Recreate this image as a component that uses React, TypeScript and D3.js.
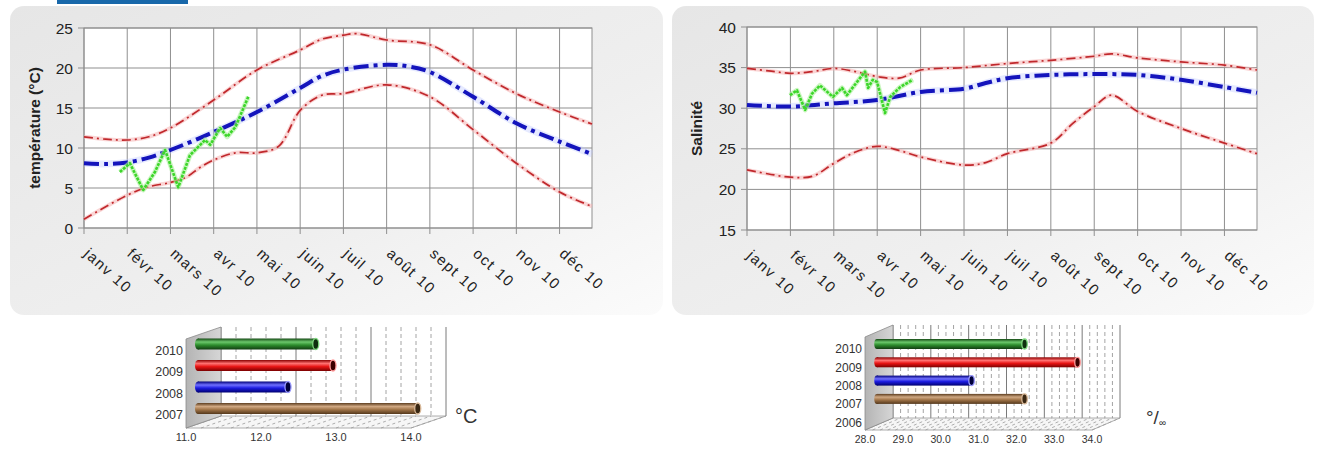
import React from 'react';
import * as d3 from 'd3';

// ---------- DATA ----------
const monthLabels = ['janv 10', 'févr 10', 'mars 10', 'avr 10', 'mai 10', 'juin 10', 'juil 10', 'août 10', 'sept 10', 'oct 10', 'nov 10', 'déc 10'];

// Temperature (month index, °C)
const tempMean: [number, number][] = [[0, 8.1], [0.5, 8.0], [1, 8.2], [1.5, 8.8], [2, 9.75], [3, 12.0], [4, 14.5], [5, 17.5], [5.5, 19.0], [6, 19.8], [7, 20.4], [7.5, 20.2], [8, 19.5], [9, 16.4], [10, 13.1], [11, 10.8], [11.75, 9.25]];
const tempUpper: [number, number][] = [[0, 11.4], [0.5, 11.1], [1, 11.0], [1.5, 11.4], [2, 12.5], [3, 16.0], [4, 19.75], [5, 22.25], [5.5, 23.6], [6, 24.1], [6.3, 24.3], [7, 23.5], [8, 22.9], [9, 19.75], [10, 16.8], [11, 14.5], [11.75, 13.0]];
const tempLower: [number, number][] = [[0, 1.1], [1, 4.1], [1.46, 5.1], [2, 5.7], [2.38, 6.4], [2.69, 7.6], [3, 8.5], [3.5, 9.4], [4, 9.4], [4.5, 10.2], [5, 14.7], [5.5, 16.6], [6, 16.8], [7, 17.9], [8, 16.4], [9, 12.3], [10, 8.1], [11, 4.5], [11.75, 2.7]];
const temp2010: [number, number][] = [[0.83, 7.0], [1.06, 8.1], [1.37, 4.75], [1.64, 7.0], [1.875, 9.75], [2.18, 5.1], [2.45, 9.1], [2.8, 11.0], [2.92, 10.4], [3.15, 12.5], [3.31, 11.4], [3.5, 12.6], [3.8, 16.4]];
const tempTicks = [0, 5, 10, 15, 20, 25];

// Salinity (month index, psu)
const salMean: [number, number][] = [[0, 30.4], [1, 30.2], [2, 30.6], [3, 31.0], [4, 32.0], [5, 32.4], [5.5, 33.1], [6, 33.7], [7, 34.1], [8, 34.2], [9, 34.1], [10, 33.5], [11, 32.6], [11.75, 31.9]];
const salUpper: [number, number][] = [[0, 34.9], [0.5, 34.6], [1, 34.3], [1.5, 34.5], [2, 34.9], [2.5, 34.5], [3, 33.9], [3.5, 33.7], [4, 34.7], [5, 35.0], [6, 35.5], [7, 35.9], [8, 36.4], [8.4, 36.7], [9, 36.2], [10, 35.7], [11, 35.3], [11.75, 34.7]];
const salLower: [number, number][] = [[0, 22.4], [0.5, 21.9], [1, 21.5], [1.5, 21.6], [2, 23.2], [2.5, 24.6], [3, 25.3], [3.5, 24.8], [4, 24.0], [5, 23.0], [5.5, 23.3], [6, 24.4], [7, 25.7], [7.5, 28.1], [8, 30.2], [8.4, 31.6], [9, 29.6], [10, 27.5], [11, 25.7], [11.75, 24.4]];
const sal2010: [number, number][] = [[0.99, 31.6], [1.15, 32.2], [1.34, 29.8], [1.5, 31.8], [1.68, 32.8], [1.98, 31.4], [2.19, 32.5], [2.3, 31.6], [2.53, 33.2], [2.72, 34.5], [2.79, 32.5], [2.9, 33.5], [3.0, 33.2], [3.18, 29.4], [3.3, 31.4], [3.53, 32.6], [3.69, 33.1], [3.82, 33.5]];
const salTicks = [15, 20, 25, 30, 35, 40];

// Annual means (bar charts)
const tempYears = ['2010', '2009', '2008', '2007'];
const tempYearMeans = [12.57, 12.8, 12.2, 13.93];
const tempBarTicks = [11, 12, 13, 14];
const salYears = ['2010', '2009', '2008', '2007', '2006'];
const salYearMeans: (number | null)[] = [31.9, 33.3, 30.5, 31.9, null];
const salBarTicks = [28, 29, 30, 31, 32, 33, 34];
const barColorNames = ['green', 'red', 'blue', 'brown', 'brown'];

const FONT = 'Liberation Sans, Arial, Helvetica, sans-serif';

const cylGrad: Record<string, string[]> = {
  green: ['#154a15', '#6cc86c', '#2c8c2c', '#123c12'],
  red: ['#8a0000', '#ff7070', '#e81414', '#7a0000'],
  blue: ['#00007a', '#7070ff', '#1c1ce0', '#000070'],
  brown: ['#5e3e20', '#d0a882', '#a07448', '#54381c'],
};
const capFill: Record<string, string> = { green: '#0e2e0e', red: '#3a0000', blue: '#00003a', brown: '#3a2814' };
const capStroke: Record<string, string> = { green: '#7fd87f', red: '#ff9a9a', blue: '#9a9aff', brown: '#d8b898' };

// ---------- LINE CHART ----------
type LCProps = {
  left: number; right: number; top: number; bottom: number;
  yDomain: [number, number]; yTicks: number[]; title: string; titleX: number;
  mean: [number, number][]; upper: [number, number][]; lower: [number, number][]; obs: [number, number][];
};

function LineChart(p: LCProps) {
  const x = d3.scaleLinear().domain([0, 11.75]).range([p.left, p.right]);
  const y = d3.scaleLinear().domain(p.yDomain).range([p.bottom, p.top]);
  const smooth = d3.line<[number, number]>().x(d => x(d[0])).y(d => y(d[1])).curve(d3.curveCatmullRom.alpha(0.5));
  const straight = d3.line<[number, number]>().x(d => x(d[0])).y(d => y(d[1])).curve(d3.curveLinear);
  const midY = (p.top + p.bottom) / 2;
  return (
    <g fontFamily={FONT}>
      <rect x={p.left} y={p.top} width={p.right - p.left} height={p.bottom - p.top} fill="#fff" />
      {p.yTicks.map(t => (
        <g key={'y' + t}>
          <line x1={p.left - 6} x2={p.right} y1={y(t)} y2={y(t)} stroke="#8f8f8f" strokeWidth={1} />
          <text x={p.left - 11} y={y(t)} dy="0.36em" textAnchor="end" fontSize={15.5} fill="#222">{t}</text>
        </g>
      ))}
      {monthLabels.map((m, i) => (
        <g key={'x' + i}>
          <line x1={x(i)} x2={x(i)} y1={p.top} y2={p.bottom + 6} stroke="#8f8f8f" strokeWidth={1} />
          <text transform={`translate(${x(i) - 1},${p.bottom + 27}) rotate(42)`} fontSize={15} letterSpacing={1.4} fill="#222">{m}</text>
        </g>
      ))}
      <rect x={p.left} y={p.top} width={p.right - p.left} height={p.bottom - p.top} fill="none" stroke="#8f8f8f" strokeWidth={1} />
      <text transform={`translate(${p.titleX},${midY}) rotate(-90)`} textAnchor="middle" fontSize={15.5} fontWeight="bold" fill="#222">{p.title}</text>
      {[p.upper, p.lower].map((s, i) => (
        <g key={'r' + i}>
          <path d={smooth(s) || ''} fill="none" stroke="#f6b3b3" strokeOpacity={0.55} strokeWidth={4} />
          <path d={smooth(s) || ''} fill="none" stroke="#c0282c" strokeWidth={1.7} strokeDasharray="9 4 2 4" />
        </g>
      ))}
      <path d={smooth(p.mean) || ''} fill="none" stroke="#b8c4ff" strokeOpacity={0.35} strokeWidth={7} />
      <path d={smooth(p.mean) || ''} fill="none" stroke="#1414bc" strokeWidth={4} strokeDasharray="15 5 4 5" />
      <path d={straight(p.obs) || ''} fill="none" stroke="#a8f098" strokeOpacity={0.6} strokeWidth={5} strokeLinejoin="round" />
      <path d={straight(p.obs) || ''} fill="none" stroke="#3cd62a" strokeWidth={2.6} strokeDasharray="3 1.2" strokeLinejoin="round" />
    </g>
  );
}

// ---------- 3D BAR CHART ----------
type BCProps = {
  id: string; domain: [number, number]; frontRange: [number, number]; ticks: number[];
  depthX: number; depthY: number; floorY: number; backTop: number;
  years: string[]; values: (number | null)[]; labelY0: number; labelStep: number;
  barOffX: number; barOffY: number; barR: number; labelFont: number; tickFont: number;
};

function Bar3D(p: BCProps) {
  const xF = d3.scaleLinear().domain(p.domain).range(p.frontRange);
  const xB = (v: number) => xF(v) + p.depthX;
  const xBar = (v: number) => xF(v) + p.barOffX;
  const [d0, d1] = p.domain;
  const minor = d3.range(d0, d1 + 1e-6, 0.2);
  const backBottom = p.floorY - p.depthY;
  const topFront = p.backTop + p.depthY;
  return (
    <g fontFamily={FONT}>
      <defs>
        {Object.keys(cylGrad).map(c => (
          <linearGradient key={c} id={`${p.id}-${c}`} x1="0" y1="0" x2="0" y2="1">
            <stop offset="0" stopColor={cylGrad[c][0]} />
            <stop offset="0.32" stopColor={cylGrad[c][1]} />
            <stop offset="0.6" stopColor={cylGrad[c][2]} />
            <stop offset="1" stopColor={cylGrad[c][3]} />
          </linearGradient>
        ))}
        <linearGradient id={`${p.id}-wall`} x1="0" y1="0" x2="1" y2="0">
          <stop offset="0" stopColor="#b4b4b4" />
          <stop offset="1" stopColor="#d6d6d6" />
        </linearGradient>
      </defs>
      <rect x={xB(d0)} y={p.backTop} width={xB(d1) - xB(d0)} height={backBottom - p.backTop} fill="#fff" />
      {minor.map((v, i) => {
        const isInt = Math.abs(v - Math.round(v)) < 1e-6;
        return (
          <line key={'bw' + i} x1={xB(v)} x2={xB(v)} y1={p.backTop} y2={backBottom}
            stroke={isInt ? '#7a7a7a' : '#9a9a9a'} strokeWidth={isInt ? 1 : 0.9}
            strokeDasharray={isInt ? undefined : '4 3'} />
        );
      })}
      <polygon points={`${xF(d0)},${p.floorY} ${xF(d1)},${p.floorY} ${xB(d1)},${backBottom} ${xB(d0)},${backBottom}`} fill="#f6f6f6" stroke="#9a9a9a" strokeWidth={0.8} />
      {minor.map((v, i) => (
        <line key={'fl' + i} x1={xF(v)} x2={xB(v)} y1={p.floorY} y2={backBottom} stroke="#9a9a9a" strokeWidth={0.8} strokeDasharray="3 3" />
      ))}
      <polygon points={`${xF(d0)},${topFront} ${xB(d0)},${p.backTop} ${xB(d0)},${backBottom} ${xF(d0)},${p.floorY}`} fill={`url(#${p.id}-wall)`} stroke="#8a8a8a" strokeWidth={0.8} />
      {p.values.map((v, i) => {
        if (v == null) return null;
        const c = barColorNames[i];
        const cy = p.labelY0 + i * p.labelStep + p.barOffY;
        const xs = xBar(d0);
        const xe = xBar(v);
        const r = p.barR;
        return (
          <g key={'b' + i}>
            <ellipse cx={xs} cy={cy} rx={r * 0.55} ry={r} fill={`url(#${p.id}-${c})`} />
            <rect x={xs} y={cy - r} width={xe - xs} height={2 * r} fill={`url(#${p.id}-${c})`} />
            <ellipse cx={xe} cy={cy} rx={r * 0.55} ry={r} fill={capFill[c]} stroke={capStroke[c]} strokeWidth={1.3} />
          </g>
        );
      })}
      {p.years.map((yr, i) => (
        <text key={'yl' + i} x={xF(d0) - 3} y={p.labelY0 + i * p.labelStep} dy="0.36em" textAnchor="end" fontSize={p.labelFont} fill="#333">{yr}</text>
      ))}
      {p.ticks.map(t => (
        <text key={'xt' + t} x={xF(t)} y={p.floorY + 13} textAnchor="middle" fontSize={p.tickFont} fill="#333">{t.toFixed(1)}</text>
      ))}
    </g>
  );
}

export default function App() {
  return (
    <svg width={1321} height={450} style={{ position: 'absolute', left: 0, top: 0, background: '#fff' }}>
      <defs>
        <linearGradient id="panelGrad" x1="0" y1="0" x2="1" y2="1">
          <stop offset="0" stopColor="#e6e6e6" />
          <stop offset="0.6" stopColor="#efefef" />
          <stop offset="1" stopColor="#fbfbfb" />
        </linearGradient>
      </defs>
      <rect x={57} y={0} width={131} height={4} fill="#1868aa" />
      <rect x={10} y={6} width={653} height={309} rx={14} fill="url(#panelGrad)" />
      <rect x={672} y={6} width={642} height={309} rx={14} fill="url(#panelGrad)" />
      <LineChart left={84} right={592} top={28} bottom={228} yDomain={[0, 25]} yTicks={tempTicks}
        title="température (°C)" titleX={40} mean={tempMean} upper={tempUpper} lower={tempLower} obs={temp2010} />
      <LineChart left={747} right={1257} top={27} bottom={230} yDomain={[15, 40]} yTicks={salTicks}
        title="Salinité" titleX={702} mean={salMean} upper={salUpper} lower={salLower} obs={sal2010} />
      <Bar3D id="bt" domain={[11, 14]} frontRange={[186, 411]} ticks={tempBarTicks} depthX={35} depthY={12}
        floorY={428} backTop={327} years={tempYears} values={tempYearMeans} labelY0={350} labelStep={21.5}
        barOffX={12} barOffY={-6} barR={5.5} labelFont={12.5} tickFont={11} />
      <text x={455} y={423} fontFamily={FONT} fontSize={20} fill="#333">°C</text>
      <Bar3D id="bs" domain={[28, 34]} frontRange={[865, 1092]} ticks={salBarTicks} depthX={28} depthY={12}
        floorY={430} backTop={325} years={salYears} values={salYearMeans} labelY0={349} labelStep={18.3}
        barOffX={12} barOffY={-5} barR={5} labelFont={12} tickFont={10.5} />
      <text x={1146} y={424} fontFamily={FONT} fontSize={19} fill="#333">°/<tspan fontSize={10} dy={2}>∞</tspan></text>
    </svg>
  );
}
